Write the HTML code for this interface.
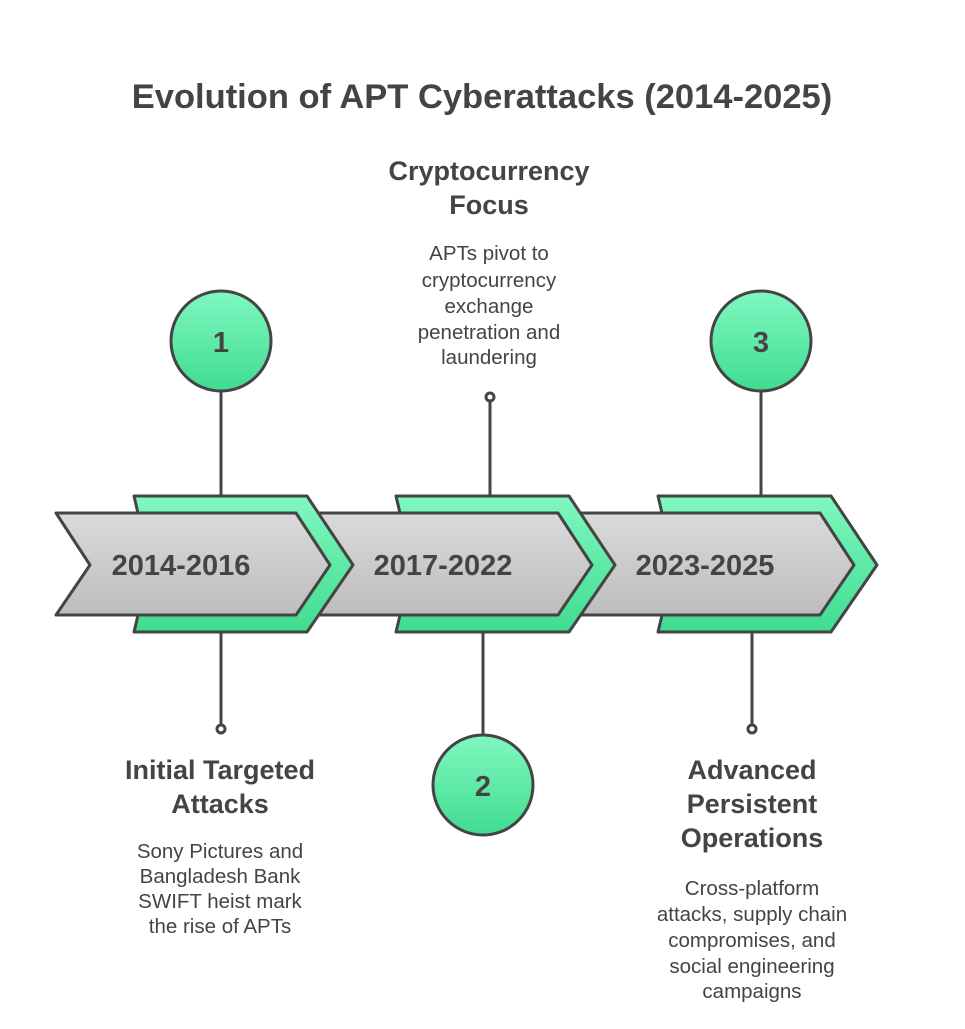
<!DOCTYPE html>
<html><head><meta charset="utf-8"><style>
body{margin:0;background:#fff;}
svg text{font-family:"Liberation Sans",sans-serif;fill:#444;}
</style></head><body>
<svg width="965" height="1024" viewBox="0 0 965 1024" xmlns="http://www.w3.org/2000/svg">
<defs>
<linearGradient id="gr" x1="0" y1="0" x2="0" y2="1"><stop offset="0" stop-color="#80f8c0"/><stop offset="1" stop-color="#40dc90"/></linearGradient>
<linearGradient id="gy" x1="0" y1="0" x2="0" y2="1"><stop offset="0" stop-color="#dadada"/><stop offset="1" stop-color="#bdbdbd"/></linearGradient>
</defs>
<text x="482" y="108" font-size="34.5" font-weight="bold" text-anchor="middle">Evolution of APT Cyberattacks (2014-2025)</text>
<g stroke="#444" stroke-width="3" stroke-linejoin="round">
<g transform="translate(524,0)">
<polygon points="134,496 307,496 353,565 307,632 134,632 150,565" fill="url(#gr)"/>
<polygon points="56,513 296,513 330,565 296,615 56,615 90,565" fill="url(#gy)"/>
</g>
<g transform="translate(262,0)">
<polygon points="134,496 307,496 353,565 307,632 134,632 150,565" fill="url(#gr)"/>
<polygon points="56,513 296,513 330,565 296,615 56,615 90,565" fill="url(#gy)"/>
</g>
<polygon points="134,496 307,496 353,565 307,632 134,632 150,565" fill="url(#gr)"/>
<polygon points="56,513 296,513 330,565 296,615 56,615 90,565" fill="url(#gy)"/>
<line x1="221" y1="391" x2="221" y2="496"/>
<line x1="221" y1="632" x2="221" y2="725"/>
<circle cx="221" cy="729" r="4" fill="#fff"/>
<line x1="490" y1="401" x2="490" y2="496"/>
<circle cx="490" cy="397" r="4" fill="#fff"/>
<line x1="483" y1="632" x2="483" y2="735"/>
<line x1="761" y1="391" x2="761" y2="496"/>
<line x1="752" y1="632" x2="752" y2="725"/>
<circle cx="752" cy="729" r="4" fill="#fff"/>
<circle cx="221" cy="341" r="50" fill="url(#gr)"/>
<circle cx="761" cy="341" r="50" fill="url(#gr)"/>
<circle cx="483" cy="785" r="50" fill="url(#gr)"/>
</g>
<g font-weight="bold" text-anchor="middle">
<text x="221" y="352" font-size="29">1</text>
<text x="761" y="352" font-size="29">3</text>
<text x="483" y="796" font-size="29">2</text>
<text x="181" y="575" font-size="29">2014-2016</text>
<text x="443" y="575" font-size="29">2017-2022</text>
<text x="705" y="575" font-size="29">2023-2025</text>
<text x="489" y="180" font-size="27">Cryptocurrency</text>
<text x="489" y="214" font-size="27">Focus</text>
<text x="220" y="779" font-size="27">Initial Targeted</text>
<text x="220" y="813" font-size="27">Attacks</text>
<text x="752" y="779" font-size="27">Advanced</text>
<text x="752" y="813" font-size="27">Persistent</text>
<text x="752" y="847" font-size="27">Operations</text>
</g>
<g text-anchor="middle" font-size="20.5">
<text x="489" y="260">APTs pivot to</text>
<text x="489" y="287">cryptocurrency</text>
<text x="489" y="313">exchange</text>
<text x="489" y="339">penetration and</text>
<text x="489" y="364">laundering</text>
<text x="220" y="858">Sony Pictures and</text>
<text x="220" y="883">Bangladesh Bank</text>
<text x="220" y="908">SWIFT heist mark</text>
<text x="220" y="933">the rise of APTs</text>
<text x="752" y="895">Cross-platform</text>
<text x="752" y="921">attacks, supply chain</text>
<text x="752" y="947">compromises, and</text>
<text x="752" y="973">social engineering</text>
<text x="752" y="998">campaigns</text>
</g>
</svg>
</body></html>
